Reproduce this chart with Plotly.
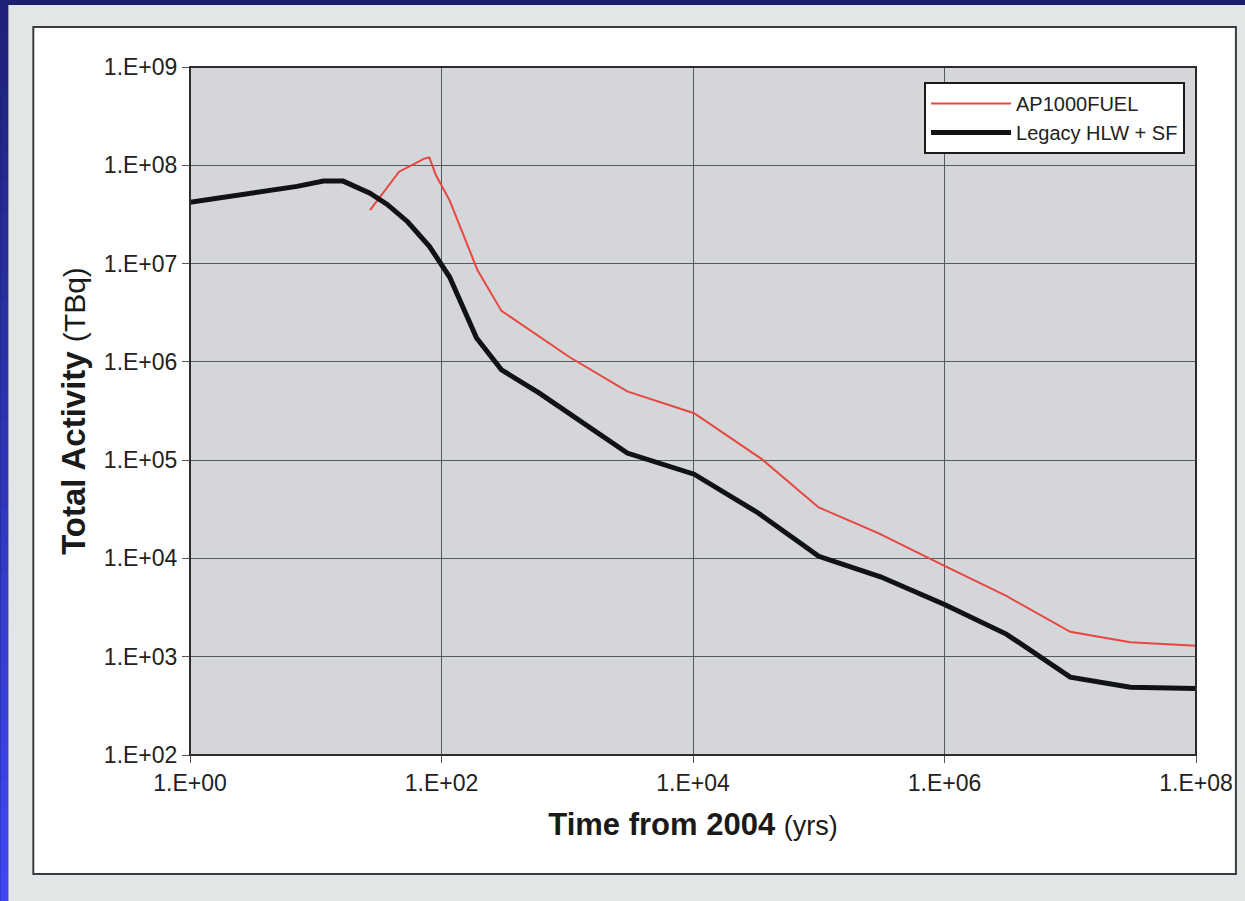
import plotly.graph_objects as go

# ---- data ----
legacy_t = [1, 7.1, 11.5, 16.5, 27, 37, 54, 80, 116, 190, 300, 600, 3000, 1.02e4, 3.3e4, 1.0e5, 3.1e5, 1.0e6, 3.1e6, 1.0e7, 3.0e7, 1.0e8]
legacy_a = [4.2e7, 6.1e7, 6.9e7, 6.9e7, 5.2e7, 4.0e7, 2.65e7, 1.5e7, 7.3e6, 1.75e6, 8.3e5, 4.8e5, 1.18e5, 7.2e4, 2.9e4, 1.05e4, 6.5e3, 3.4e3, 1.7e3, 620, 490, 475]

ap_t = [27, 46, 73, 80, 90, 116, 193, 300, 1040, 3000, 1.02e4, 3.5e4, 1.0e5, 3.0e5, 1.0e6, 3.1e6, 1.0e7, 3.0e7, 1.0e8]
ap_a = [3.5e7, 8.6e7, 1.17e8, 1.2e8, 8.0e7, 4.4e7, 8.6e6, 3.3e6, 1.12e6, 5.0e5, 3.0e5, 1.03e5, 3.3e4, 1.8e4, 8.4e3, 4.15e3, 1.79e3, 1.4e3, 1.29e3]

x_tickvals = [1, 1e2, 1e4, 1e6, 1e8]
x_ticktext = ["1.E+00", "1.E+02", "1.E+04", "1.E+06", "1.E+08"]
y_tickvals = [1e2, 1e3, 1e4, 1e5, 1e6, 1e7, 1e8, 1e9]
y_ticktext = ["1.E+02", "1.E+03", "1.E+04", "1.E+05", "1.E+06", "1.E+07", "1.E+08", "1.E+09"]

# ---- layout geometry ----
W, H = 1245, 901
L, R, T, B = 190, 47, 67, 146
pw, ph = W - L - R, H - T - B

def px(x):
    return (x - L) / pw

def py(y):
    return (H - B - y) / ph

FONT = "Liberation Sans, Arial, sans-serif"

fig = go.Figure()
fig.add_trace(go.Scatter(x=ap_t, y=ap_a, mode="lines", name="AP1000FUEL",
                         line=dict(color="#e8473f", width=2)))
fig.add_trace(go.Scatter(x=legacy_t, y=legacy_a, mode="lines", name="Legacy HLW + SF",
                         line=dict(color="#101214", width=5)))

shapes = []
# blue gradient strips on the left / background
n = 30
c0 = (30, 34, 120)
c1 = (64, 72, 245)
for i in range(n):
    f = i / (n - 1)
    col = "rgb(%d,%d,%d)" % tuple(int(c0[k] + (c1[k] - c0[k]) * f) for k in range(3))
    y_top = i * H / n
    y_bot = (i + 1) * H / n + 1
    shapes.append(dict(type="rect", xref="paper", yref="paper", layer="below",
                       x0=px(0), x1=px(8), y0=py(y_bot), y1=py(y_top),
                       fillcolor=col, line=dict(width=0)))
# light gray outer area
shapes.append(dict(type="rect", xref="paper", yref="paper", layer="below",
                   x0=px(8), x1=px(W + 5), y0=py(H + 5), y1=py(5),
                   fillcolor="#e3e6e6", line=dict(width=0)))
# white panel
shapes.append(dict(type="rect", xref="paper", yref="paper", layer="below",
                   x0=px(33), x1=px(1238), y0=py(874), y1=py(27),
                   fillcolor="#ffffff", line=dict(color="#3a3d40", width=2)))
# plot area
shapes.append(dict(type="rect", xref="paper", yref="paper", layer="below",
                   x0=0, x1=1, y0=0, y1=1,
                   fillcolor="#d4d6d9", line=dict(width=0)))
# plot area border
shapes.append(dict(type="rect", xref="paper", yref="paper", layer="above",
                   x0=0, x1=1, y0=0, y1=1,
                   line=dict(color="#2a2c2e", width=2)))

fig.update_layout(
    width=W, height=H,
    margin=dict(l=L, r=R, t=T, b=B),
    paper_bgcolor="#1c2070",
    plot_bgcolor="rgba(0,0,0,0)",
    font=dict(family=FONT, color="#222222"),
    shapes=shapes,
    showlegend=True,
    legend=dict(x=px(1187), y=py(82), xanchor="right", yanchor="top",
                bgcolor="#ffffff", bordercolor="#1a1a1a", borderwidth=2,
                font=dict(size=20, color="#222222"), tracegroupgap=0,
                itemwidth=80),
)

fig.update_xaxes(
    type="log", range=[0, 8],
    tickvals=x_tickvals, ticktext=x_ticktext,
    tickfont=dict(size=23, family=FONT, color="#222222"),
    ticks="outside", ticklen=7, tickcolor="#555555", tickwidth=1,
    showgrid=True, gridcolor="#555a5e", gridwidth=1,
    zeroline=False, showline=False,
    title=dict(text="<b>Time from 2004</b> <span style='font-size:27px'>(yrs)</span>",
               font=dict(size=31, family=FONT, color="#1a1a1a"), standoff=18),
)
fig.update_yaxes(
    type="log", range=[2, 9],
    tickvals=y_tickvals, ticktext=y_ticktext,
    tickfont=dict(size=23, family=FONT, color="#222222"),
    ticks="outside", ticklen=7, tickcolor="#555555", tickwidth=1,
    showgrid=True, gridcolor="#555a5e", gridwidth=1,
    zeroline=False, showline=False,
    title=dict(text="<b>Total Activity</b> <span style='font-size:30px'>(TBq)</span>",
               font=dict(size=33, family=FONT, color="#1a1a1a"), standoff=8),
)

fig.write_html("out.html", config={"displayModeBar": False},
               post_script="document.body.style.margin='0';document.body.style.overflow='hidden';")
